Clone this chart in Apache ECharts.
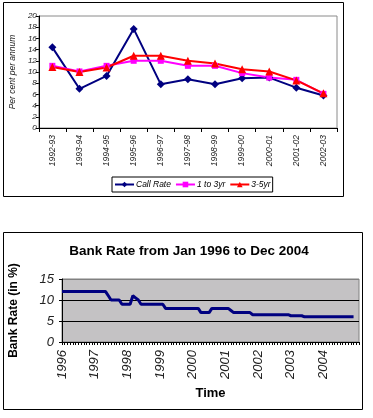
<!DOCTYPE html>
<html><head><meta charset="utf-8">
<script src="https://cdn.jsdelivr.net/npm/echarts@6/dist/echarts.min.js"></script>
<style>html,body{margin:0;padding:0;background:#fff}#c{width:373px;height:418px}</style>
</head><body><div id="c"></div>
<script>
// ---- Top chart data ----
var periods = ['1992-93','1993-94','1994-95','1995-96','1996-97','1997-98','1998-99','1999-00','2000-01','2001-02','2002-03'];
var callRate = [14.4, 7.0, 9.3, 17.7, 7.8, 8.7, 7.8, 8.9, 9.0, 7.2, 5.8];
var oneTo3yr = [11.1, 10.1, 11.1, 12.0, 12.0, 11.1, 11.1, 9.8, 9.0, 8.6, 6.1];
var threeTo5yr = [10.9, 10.0, 10.8, 12.9, 12.9, 12.0, 11.5, 10.5, 10.1, 8.5, 6.2];
var topYTicks = [0, 2, 4, 6, 8, 10, 12, 14, 16, 18, 20];

// ---- Bottom chart data ----
var years = ['1996','1997','1998','1999','2000','2001','2002','2003','2004'];
var bankRate = [
  12,12,12,12,12,12,12,12,12,12,12,12,   // 1996
  12,12,12,12,12,11,10,10,10,10,9,9,     // 1997
  9,9,11,10.5,10,9,9,9,9,9,9,9,          // 1998
  9,9,8,8,8,8,8,8,8,8,8,8,               // 1999
  8,8,8,7,7,7,7,8,8,8,8,8,               // 2000
  8,8,7.5,7,7,7,7,7,7,7,6.5,6.5,         // 2001
  6.5,6.5,6.5,6.5,6.5,6.5,6.5,6.5,6.5,6.5,6.5,6.5, // 2002
  6.25,6.25,6.25,6.25,6.25,6,6,6,6,6,6,6, // 2003
  6,6,6,6,6,6,6,6,6,6,6,6,               // 2004
  null,null                              // axis extension (no data)
];
var bottomYTicks = [0, 5, 10, 15];

var months = [];
for (var y = 0; y < years.length; y++) {
  for (var m = 1; m <= 12; m++) months.push(years[y] + '-' + (m < 10 ? '0' + m : m));
}
months.push('ext-1', 'ext-2');

var FONT = "Arial, 'Liberation Sans', sans-serif";
var chart = echarts.init(document.getElementById('c'), null, {renderer: 'canvas'});
chart.setOption({
  animation: false,
  backgroundColor: '#fff',
  graphic: [
    {type: 'rect', shape: {x: 3.5, y: 2.5, width: 340, height: 194}, style: {fill: 'none', stroke: '#000', lineWidth: 1}, z: 100},
    {type: 'rect', shape: {x: 3.5, y: 232.5, width: 359, height: 177}, style: {fill: 'none', stroke: '#000', lineWidth: 1}, z: 100}
  ],
  title: {
    text: 'Bank Rate from Jan 1996 to Dec 2004',
    left: 184, top: 239, textAlign: 'center',
    textStyle: {fontFamily: FONT, fontSize: 13.5, fontWeight: 'bold', color: '#000'}
  },
  legend: {
    data: ['Call Rate', '1 to 3yr', '3-5yr'],
    left: 112, top: 177,
    padding: [3, 2, 3, 2],
    itemWidth: 19, itemHeight: 7, itemGap: 4,
    borderColor: '#000', borderWidth: 1,
    textStyle: {fontFamily: FONT, fontSize: 8.5, fontStyle: 'italic', color: '#000', padding: [0, 0, 0, -3]}
  },
  grid: [
    {left: 38, top: 16, width: 299, height: 112, show: true, borderColor: '#8a8a8a', borderWidth: 1, backgroundColor: 'transparent'},
    {left: 61, top: 279, width: 298, height: 63, show: true, borderColor: '#808080', borderWidth: 1, backgroundColor: '#c4c2c4'}
  ],
  xAxis: [
    {
      gridIndex: 0, type: 'category', data: periods, boundaryGap: true,
      axisLine: {lineStyle: {color: '#000', width: 1}},
      axisTick: {show: true, length: 4, lineStyle: {color: '#000'}},
      axisLabel: {rotate: 90, margin: 7, fontFamily: FONT, fontSize: 8.5, fontStyle: 'italic', color: '#222'}
    },
    {
      gridIndex: 1, type: 'category', data: months, boundaryGap: false,
      name: 'Time', nameLocation: 'middle', nameGap: 45,
      nameTextStyle: {fontFamily: FONT, fontSize: 13, fontWeight: 'bold', color: '#000'},
      axisLine: {lineStyle: {color: '#000', width: 1}},
      axisTick: {show: true, interval: 0, length: 3, lineStyle: {color: '#000'}},
      axisLabel: {
        interval: function (i, v) { return v.slice(5) === '01'; },
        rotate: 90, margin: 8, fontFamily: FONT, fontSize: 13, fontStyle: 'italic', color: '#222',
        formatter: function (v) { return v.slice(0, 4); }}
    }
  ],
  yAxis: [
    {
      gridIndex: 0, type: 'value', min: topYTicks[0], max: topYTicks[topYTicks.length - 1], interval: 2,
      name: 'Per cent per annum', nameLocation: 'middle', nameGap: 21,
      nameTextStyle: {fontFamily: FONT, fontSize: 8.5, fontStyle: 'italic', color: '#222'},
      axisLine: {show: true, lineStyle: {color: '#000', width: 1}},
      axisTick: {show: true, length: 3, lineStyle: {color: '#000'}},
      splitLine: {show: false},
      axisLabel: {margin: 2, fontFamily: FONT, fontSize: 8, fontStyle: 'italic', color: '#222'}
    },
    {
      gridIndex: 1, type: 'value', min: bottomYTicks[0], max: bottomYTicks[bottomYTicks.length - 1], interval: 5,
      name: 'Bank Rate (in %)', nameLocation: 'middle', nameGap: 42,
      nameTextStyle: {fontFamily: FONT, fontSize: 12, fontWeight: 'bold', color: '#000'},
      axisLine: {show: true, lineStyle: {color: '#000', width: 1}},
      axisTick: {show: true, length: 3, lineStyle: {color: '#000'}},
      splitLine: {show: true, lineStyle: {color: ['#000', '#000', '#000', '#808080'], width: 1}},
      axisLabel: {margin: 8, fontFamily: FONT, fontSize: 13, fontStyle: 'italic', color: '#222'}
    }
  ],
  series: [
    {name: 'Call Rate', type: 'line', xAxisIndex: 0, yAxisIndex: 0, data: callRate,
      color: '#000080', symbol: 'diamond', symbolSize: 8, lineStyle: {width: 2}, itemStyle: {color: '#000080'}},
    {name: '1 to 3yr', type: 'line', xAxisIndex: 0, yAxisIndex: 0, data: oneTo3yr,
      color: '#ff00ff', symbol: 'rect', symbolSize: 6, lineStyle: {width: 2}, itemStyle: {color: '#ff00ff'}},
    {name: '3-5yr', type: 'line', xAxisIndex: 0, yAxisIndex: 0, data: threeTo5yr,
      color: '#ff0000', symbol: 'triangle', symbolSize: 8, lineStyle: {width: 2}, itemStyle: {color: '#ff0000'}},
    {name: 'Bank Rate', type: 'line', xAxisIndex: 1, yAxisIndex: 1, data: bankRate,
      color: '#000080', symbol: 'none', connectNulls: false, lineStyle: {width: 3, color: '#000080'}}
  ]
});
</script></body></html>
